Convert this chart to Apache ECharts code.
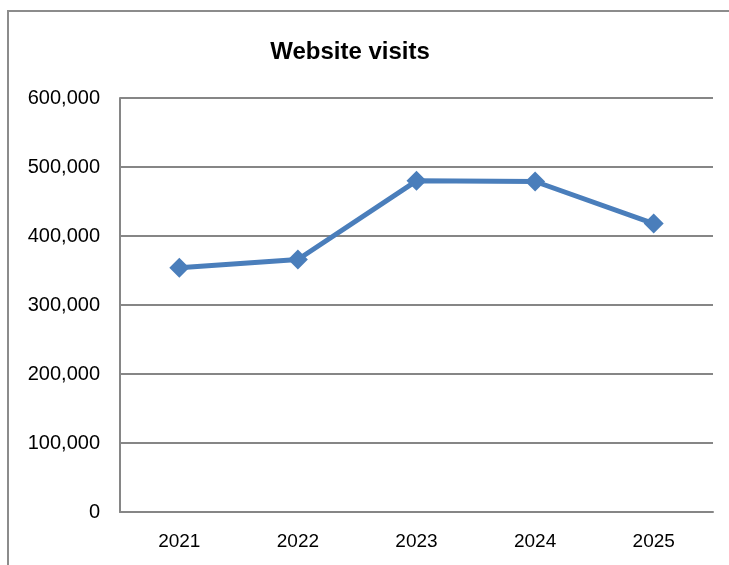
<!DOCTYPE html>
<html>
<head>
<meta charset="utf-8">
<script src="https://cdn.jsdelivr.net/npm/echarts@6/dist/echarts.min.js"></script>
<style>
  html, body { margin: 0; padding: 0; background: #fff; }
  #chart { width: 729px; height: 565px; }
</style>
</head>
<body>
<div id="chart"></div>
<script>
// Yearly website visits
const years = ['2021', '2022', '2023', '2024', '2025'];
const visits = [354000, 366000, 480000, 479000, 418000];
const yTicks = { min: 0, max: 600000, interval: 100000 };

const labelFont = "'Liberation Sans', Arial, sans-serif";

const chart = echarts.init(document.getElementById('chart'), null, { renderer: 'canvas' });

chart.setOption({
  backgroundColor: '#ffffff',
  animation: false,
  graphic: [{
    type: 'rect',
    shape: { x: 8, y: 11, width: 760, height: 600 },
    style: { fill: 'none', stroke: '#8c8c8c', lineWidth: 2 },
    silent: true,
    z: -1
  }],
  title: {
    text: 'Website visits',
    left: 345,
    textAlign: 'center',
    top: 35,
    textStyle: {
      fontFamily: labelFont,
      fontWeight: 'bold',
      fontSize: 24,
      color: '#000'
    }
  },
  grid: { left: 120, right: 16, top: 98, bottom: 53 },
  xAxis: {
    type: 'category',
    data: years,
    boundaryGap: true,
    axisLine: { show: true, lineStyle: { color: '#868686', width: 2 } },
    axisTick: { show: false },
    axisLabel: {
      margin: 20,
      fontFamily: labelFont,
      fontSize: 19,
      color: '#000'
    }
  },
  yAxis: {
    type: 'value',
    min: yTicks.min,
    max: yTicks.max,
    interval: yTicks.interval,
    axisLine: { show: true, lineStyle: { color: '#868686', width: 2 } },
    axisTick: { show: false },
    splitLine: { show: true, lineStyle: { color: '#868686', width: 2 } },
    axisLabel: {
      margin: 20,
      fontFamily: labelFont,
      fontSize: 20,
      color: '#000',
      formatter: v => v.toLocaleString('en-US')
    }
  },
  series: [{
    type: 'line',
    data: visits,
    symbol: 'diamond',
    symbolSize: 20,
    lineStyle: { color: '#4a7ebb', width: 5 },
    itemStyle: { color: '#4a7ebb' }
  }]
});
</script>
</body>
</html>
